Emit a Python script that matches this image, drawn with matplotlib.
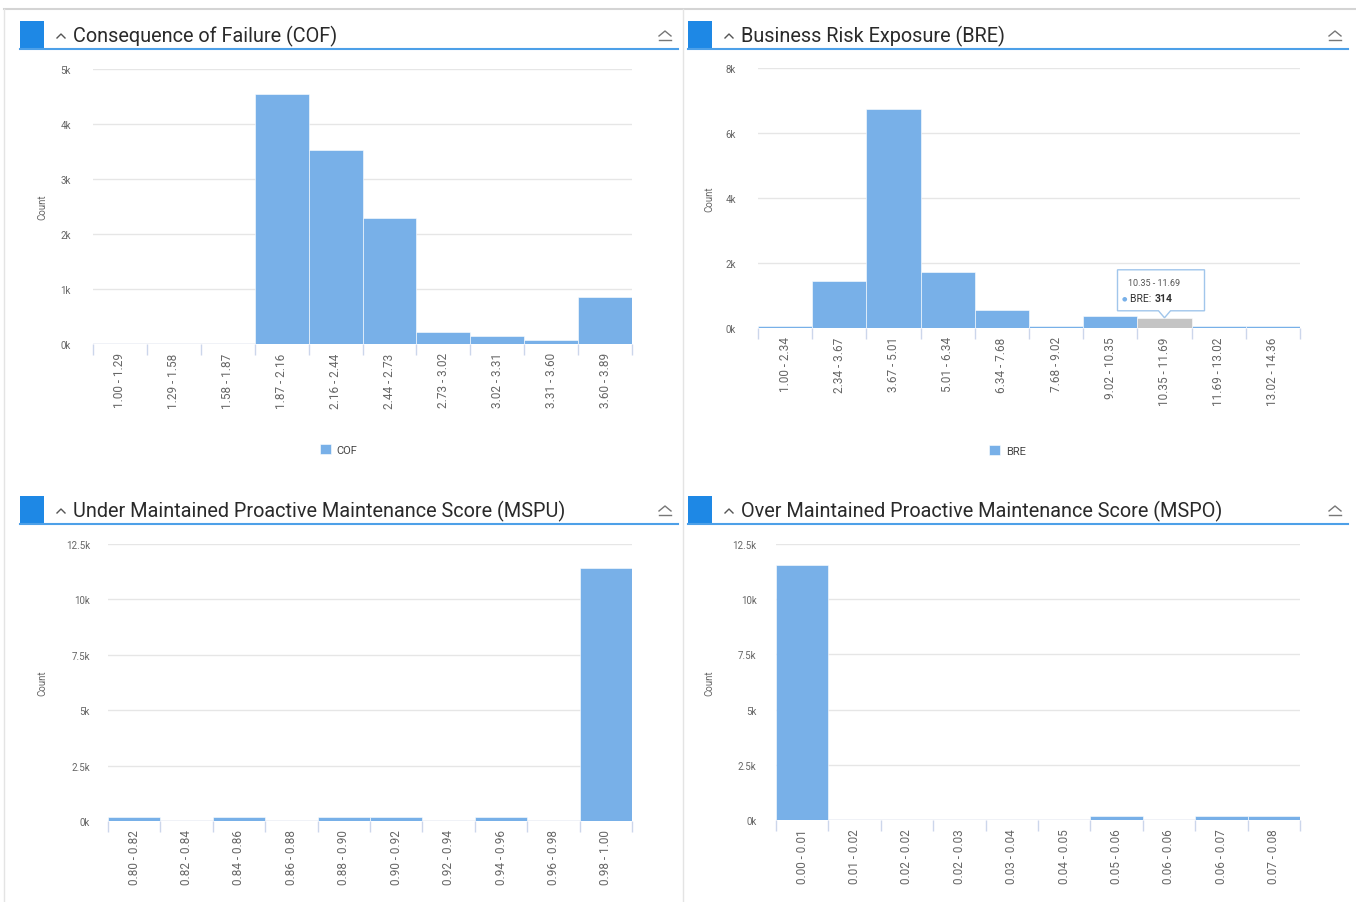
import matplotlib
matplotlib.use('Agg')
import matplotlib.pyplot as plt
import matplotlib.transforms as mtransforms
from matplotlib.patches import Rectangle, Polygon
import numpy as np

plt.rcParams['font.family'] = ['Roboto', 'DejaVu Sans']

W, H = 1356, 903

# histogram bins and counts for each score
cof_bins = ['1.00 - 1.29', '1.29 - 1.58', '1.58 - 1.87', '1.87 - 2.16', '2.16 - 2.44',
            '2.44 - 2.73', '2.73 - 3.02', '3.02 - 3.31', '3.31 - 3.60', '3.60 - 3.89']
cof_counts = [0, 0, 0, 4540, 3520, 2300, 210, 150, 70, 850]

bre_bins = ['1.00 - 2.34', '2.34 - 3.67', '3.67 - 5.01', '5.01 - 6.34', '6.34 - 7.68',
            '7.68 - 9.02', '9.02 - 10.35', '10.35 - 11.69', '11.69 - 13.02', '13.02 - 14.36']
bre_counts = [60, 1460, 6730, 1710, 540, 70, 360, 314, 50, 50]

mspu_bins = ['0.80 - 0.82', '0.82 - 0.84', '0.84 - 0.86', '0.86 - 0.88', '0.88 - 0.90',
             '0.90 - 0.92', '0.92 - 0.94', '0.94 - 0.96', '0.96 - 0.98', '0.98 - 1.00']
mspu_counts = [170, 0, 170, 0, 170, 170, 0, 170, 0, 11420]

mspo_bins = ['0.00 - 0.01', '0.01 - 0.02', '0.02 - 0.02', '0.02 - 0.03', '0.03 - 0.04',
             '0.04 - 0.05', '0.05 - 0.06', '0.06 - 0.06', '0.06 - 0.07', '0.07 - 0.08']
mspo_counts = [11560, 0, 0, 0, 0, 0, 170, 0, 170, 170]

BAR = '#78b0e8'
HEAD = '#1e88e5'
GRID = '#e6e6e6'
AXIS = '#ccd6eb'
TXT = '#666666'


def px_axes(fig, x0, y0, x1, y1, **kw):
    # add an axes given its pixel box (top-left origin)
    return fig.add_axes([x0 / W, 1 - y1 / H, (x1 - x0) / W, (y1 - y0) / H], **kw)


def k_fmt(v, pos=None):
    s = ('%.1f' % (v / 1000)).rstrip('0').rstrip('.')
    return s + 'k'


def histo(ax, bins, counts, ymax, step, label_x, tick_pad, legend_name=None, legend_y=None, legend_x=0.46):
    n = len(bins)
    x = np.arange(n)
    rects = ax.bar(x, counts, width=1.0, color=BAR, edgecolor='white', linewidth=0.4,
                   zorder=3, label=legend_name)
    ax.set_xlim(-0.5, n - 0.5)
    ax.set_ylim(0, ymax)
    ax.set_yticks(np.arange(0, ymax + 1, step))
    ax.yaxis.set_major_formatter(plt.FuncFormatter(k_fmt))
    ax.grid(axis='y', color=GRID, linewidth=1, zorder=0)
    ax.axhline(0, color=AXIS, linewidth=1, zorder=2)
    for s in ax.spines.values():
        s.set_visible(False)
    ax.tick_params(axis='y', length=0, pad=tick_pad, labelsize=7, labelcolor=TXT)
    ax.set_xticks(x)
    ax.set_xticklabels(bins, rotation=90, fontsize=8.5, color=TXT)
    ax.tick_params(axis='x', which='major', length=0, pad=6)
    ax.set_xticks(np.arange(-0.5, n), minor=True)
    ax.tick_params(axis='x', which='minor', length=8, color=AXIS, width=1)
    ax.set_ylabel('Count', fontsize=7, color=TXT)
    ax.yaxis.set_label_coords(label_x, 0.5)
    if legend_name:
        ax.legend(loc='center', bbox_to_anchor=(legend_x, legend_y), frameon=False,
                  fontsize=8, handlelength=1.0, handleheight=1.0, handletextpad=0.5,
                  labelcolor='#444444')
    return rects


fig = plt.figure(figsize=(W / 100, H / 100), dpi=100)

# panel frames and headers drawn on a pixel-space overlay
bg = fig.add_axes([0, 0, 1, 1], zorder=-1)
bg.set_xlim(0, W)
bg.set_ylim(H, 0)
bg.axis('off')
bg.plot([4, W], [10, 10], color='#d4d4d4', linewidth=1.5)
bg.plot([4, 4], [10, H], color='#e4e4e4', linewidth=1)
bg.plot([683, 683], [10, H], color='#e4e4e4', linewidth=1)

headers = [(20, 22, 678, 'Consequence of Failure (COF)'),
           (688, 22, 1348, 'Business Risk Exposure (BRE)'),
           (20, 497, 678, 'Under Maintained Proactive Maintenance Score (MSPU)'),
           (688, 497, 1348, 'Over Maintained Proactive Maintenance Score (MSPO)')]
for x0, y0, right, title in headers:
    bg.add_patch(Rectangle((x0, y0), 24, 28, color=HEAD, linewidth=0))
    bg.plot([x0, right], [y0 + 28, y0 + 28], color='#4da0e8', linewidth=1.5)
    bg.plot([x0 + 37, x0 + 41, x0 + 45], [y0 + 17, y0 + 13, y0 + 17], color='#555555', linewidth=1)
    bg.text(x0 + 53, y0 + 14, title, fontsize=14.3, color='#2a2a2a', va='center', ha='left')
    bg.plot([right - 19, right - 13, right - 7], [y0 + 15, y0 + 10, y0 + 15], color='#777777', linewidth=1)
    bg.plot([right - 19, right - 7], [y0 + 19, y0 + 19], color='#777777', linewidth=1)

ax1 = px_axes(fig, 93, 70, 632, 345)
histo(ax1, cof_bins, cof_counts, 5000, 1000, -0.085, 16, 'COF', -0.385, 0.456)

ax2 = px_axes(fig, 758, 69, 1300, 329)
bre_rects = histo(ax2, bre_bins, bre_counts, 8000, 2000, -0.081, 16, 'BRE', -0.47, 0.46)

ax3 = px_axes(fig, 108, 545, 632, 822)
histo(ax3, mspu_bins, mspu_counts, 12500, 2500, -0.116, 13)

ax4 = px_axes(fig, 776, 545, 1300, 821)
histo(ax4, mspo_bins, mspo_counts, 12500, 2500, -0.118, 14)

# hovered BRE column with its tooltip
hover = 7
bre_rects[hover].set_facecolor('#c4c4c4')
tip = mtransforms.ScaledTranslation(hover, bre_counts[hover], ax2.transData)
box = [(-47, 7), (-6, 7), (0, 0), (6, 7), (40, 7), (40, 48), (-47, 48)]
ax2.add_patch(Polygon(box, closed=True, transform=tip, facecolor='white', alpha=0.95,
                      edgecolor='#9cc3ea', linewidth=1, zorder=6, clip_on=False))
ax2.text(-36, 35, bre_bins[hover], transform=tip, fontsize=6.5, color='#555555',
         va='center', ha='left', zorder=7)
ax2.text(-43, 20, '\u25cf', transform=tip, fontsize=4.5, color=BAR, va='center', ha='left', zorder=7)
ax2.text(-35, 20, 'BRE: ', transform=tip, fontsize=7.5, color='#333333', va='center', ha='left', zorder=7)
ax2.text(-10, 20, '%d' % bre_counts[hover], transform=tip, fontsize=7.5, color='#333333',
         fontweight='bold', va='center', ha='left', zorder=7)

fig.savefig('out.png', dpi=100, facecolor='white')
